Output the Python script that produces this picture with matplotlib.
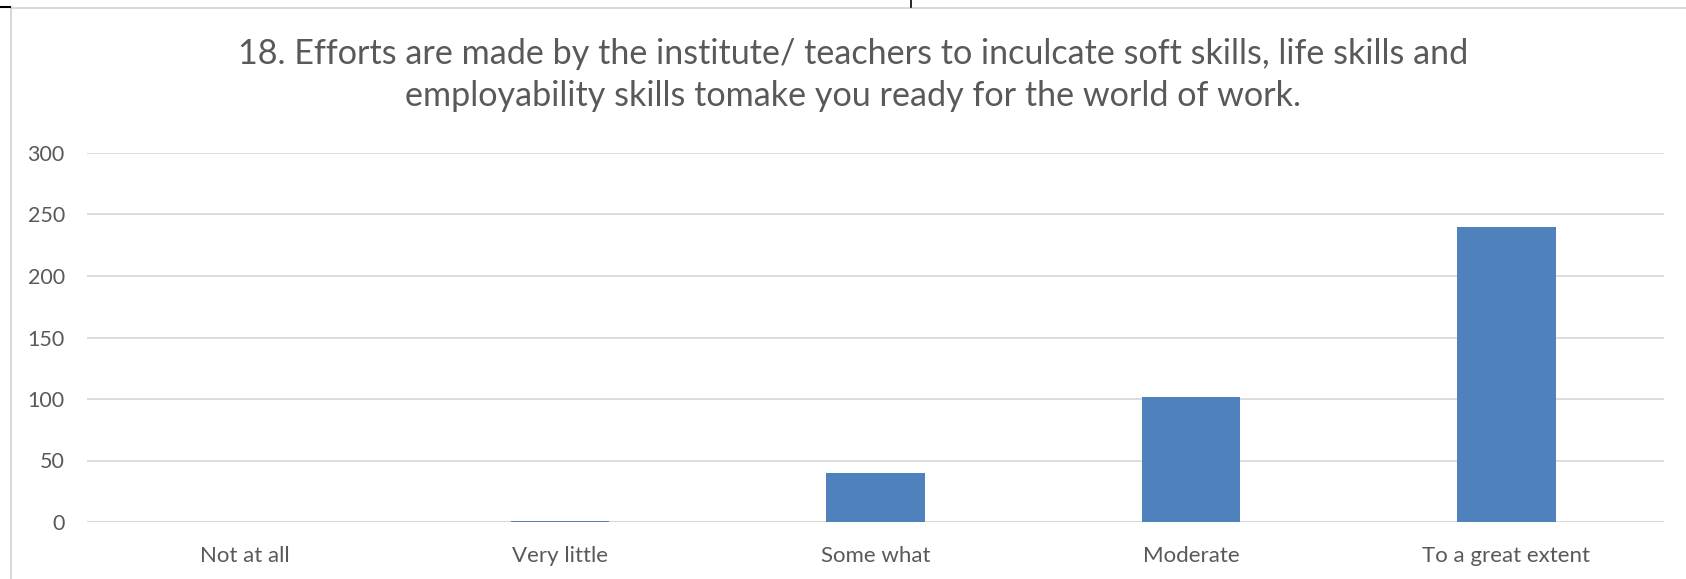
import matplotlib.pyplot as plt
from matplotlib.lines import Line2D

categories = ["Not at all", "Very little", "Some what", "Moderate", "To a great extent"]
counts = [0, 1, 40, 102, 240]
yticks = [0, 50, 100, 150, 200, 250, 300]
title = ("18. Efforts are made by the institute/ teachers to inculcate soft skills, life skills and\n"
         "employability skills tomake you ready for the world of work.")

W, H = 1686, 579
plt.rcParams["font.family"] = ["Lato", "DejaVu Sans"]
fig = plt.figure(figsize=(W / 100, H / 100), dpi=100)
ax = fig.add_axes([87 / W, 1 - 522 / H, (1664 - 87) / W, (522 - 153) / H])

x = list(range(len(categories)))
ax.bar(x, counts, width=0.313, color="#4f81bd", zorder=3)
ax.set_xlim(-0.5, len(categories) - 0.5)
ax.set_ylim(0, 300)
ax.set_yticks(yticks)
ax.set_xticks(x)
ax.set_xticklabels(categories)
ax.yaxis.grid(True, color="#d9d9d9", linewidth=1.3, zorder=0)
ax.tick_params(axis="both", length=0, labelcolor="#595959")
ax.tick_params(axis="y", pad=16, labelsize=15.5)
ax.tick_params(axis="x", pad=17, labelsize=16)
for s in ax.spines.values():
    s.set_visible(False)
ax.axhline(0, color="#d9d9d9", linewidth=1.5, zorder=2)

fig.text(853 / W, 1 - 75 / H, title, ha="center", va="center", fontsize=24.6,
         color="#595959", linespacing=1.4)

# chart frame and stray marks
fig.add_artist(Line2D([11 / W, 1], [1 - 7.5 / H] * 2, color="#d9d9d9", linewidth=1.5))
fig.add_artist(Line2D([11 / W] * 2, [0, 1 - 7.5 / H], color="#d9d9d9", linewidth=1.5))
fig.add_artist(Line2D([0, 10 / W], [1 - 7 / H] * 2, color="black", linewidth=1.5))
fig.add_artist(Line2D([911 / W] * 2, [1 - 7 / H, 1], color="black", linewidth=1.2))

fig.savefig("out.png", dpi=100)
